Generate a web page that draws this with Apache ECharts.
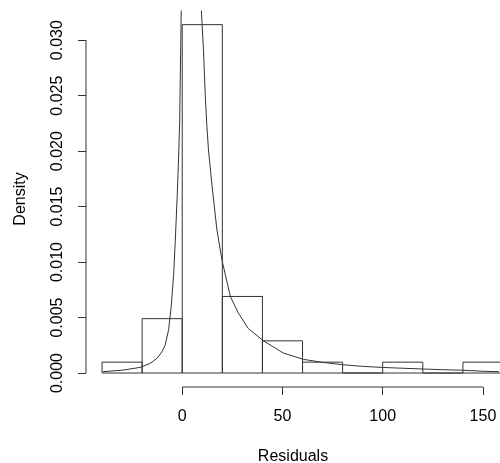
<!DOCTYPE html>
<html>
<head>
<meta charset="utf-8">
<script src="https://cdn.jsdelivr.net/npm/echarts@6/dist/echarts.min.js"></script>
<style>
  html, body { margin: 0; padding: 0; background: #fff; }
  #chart { width: 500px; height: 463px; }
</style>
</head>
<body>
<div id="chart"></div>
<script>
// histogram of residuals (density scale) + fitted density curve
const binStart = [-40, -20, 0, 20, 40, 60, 80, 100, 120, 140]
const binEnd = [-20, 0, 20, 40, 60, 80, 100, 120, 140, 160]
const binDensity = [0.00098, 0.0049, 0.0314, 0.0069, 0.0029, 0.00098, 0, 0.00098, 0, 0.00098]

const curveX = [-39.5, -29.2, -21, -16, -12.6, -10.1, -8.5, -6.8, -5.5, -4.3, -3.5, -2.5, -1.8, -1.3, -0.5,
  1, 3, 5, 7, 8.5, 9.5, 10.6, 11.5, 12.3, 13.1, 14.8, 17.3, 19.8, 24, 28, 33, 40.5, 50.5, 60.5, 70,
  80.4, 90, 100.3, 110, 120.2, 130, 140, 150, 158]
const curveY = [0.00012, 0.00027, 0.00051, 0.00087, 0.00132, 0.00192, 0.00252, 0.0039, 0.006, 0.0088, 0.0118, 0.016, 0.0195, 0.0225, 0.0326,
  0.045, 0.055, 0.056, 0.048, 0.038, 0.0328, 0.0291, 0.025, 0.0222, 0.0201, 0.017, 0.0129, 0.0102, 0.0069, 0.0054, 0.004, 0.0029, 0.0018, 0.00123, 0.00096,
  0.00074, 0.0006, 0.0005, 0.00043, 0.00036, 0.0003, 0.00025, 0.00016, 0.00012]

const xTicks = [0, 50, 100, 150]
const yTicks = [0, 0.005, 0.01, 0.015, 0.02, 0.025, 0.03]

// R style 4% axis extension; right side is cut off by the picture edge
const xMin = -48, xMax = 158.5
const yMin = -0.00126, yMax = 0.03263

const FONT = 'Liberation Sans, Arial, sans-serif'
const INK = '#333'

const chart = echarts.init(document.getElementById('chart'))

const bins = binStart.map((s, i) => [s, binEnd[i], binDensity[i]])
const curve = curveX.map((x, i) => [x, curveY[i]])

chart.setOption({
  animation: false,
  grid: { left: 86, right: 0, top: 11, bottom: 76, outerBoundsMode: 'none' },
  xAxis: {
    type: 'value', min: xMin, max: xMax,
    name: 'Residuals', nameLocation: 'middle', nameGap: 62,
    nameTextStyle: { fontFamily: FONT, fontSize: 16, color: '#000' },
    axisLine: { show: false, onZero: false },
    splitLine: { show: false },
    axisTick: { customValues: xTicks, length: 8, lineStyle: { color: INK } },
    axisLabel: { customValues: xTicks, fontFamily: FONT, fontSize: 16, color: '#000', margin: 22 }
  },
  yAxis: {
    type: 'value', min: yMin, max: yMax,
    name: 'Density', nameLocation: 'middle', nameGap: 57, nameRotate: 90,
    nameTextStyle: { fontFamily: FONT, fontSize: 16, color: '#000' },
    axisLine: { show: false, onZero: false },
    splitLine: { show: false },
    axisTick: { customValues: yTicks, length: 8, lineStyle: { color: INK } },
    axisLabel: {
      customValues: yTicks, rotate: 90, margin: 20,
      fontFamily: FONT, fontSize: 16, color: '#000',
      formatter: v => v.toFixed(3)
    }
  },
  series: [
    {
      type: 'custom',
      data: bins,
      renderItem: (params, api) => {
        const p0 = api.coord([api.value(0), api.value(2)])
        const p1 = api.coord([api.value(1), 0])
        return {
          type: 'rect',
          shape: { x: p0[0], y: p0[1], width: p1[0] - p0[0], height: p1[1] - p0[1] },
          style: { fill: 'none', stroke: INK, lineWidth: 1 }
        }
      }
    },
    {
      type: 'line',
      data: curve,
      showSymbol: false,
      clip: true,
      lineStyle: { color: INK, width: 1 },
      z: 3
    },
    // axis lines only span first..last tick, like R's axis()
    {
      type: 'line', clip: false, showSymbol: false, silent: true,
      data: [[xTicks[0], yMin], [xTicks[xTicks.length - 1], yMin]],
      lineStyle: { color: INK, width: 1 }
    },
    {
      type: 'line', clip: false, showSymbol: false, silent: true,
      data: [[xMin, yTicks[0]], [xMin, yTicks[yTicks.length - 1]]],
      lineStyle: { color: INK, width: 1 }
    }
  ]
})
</script>
</body>
</html>
